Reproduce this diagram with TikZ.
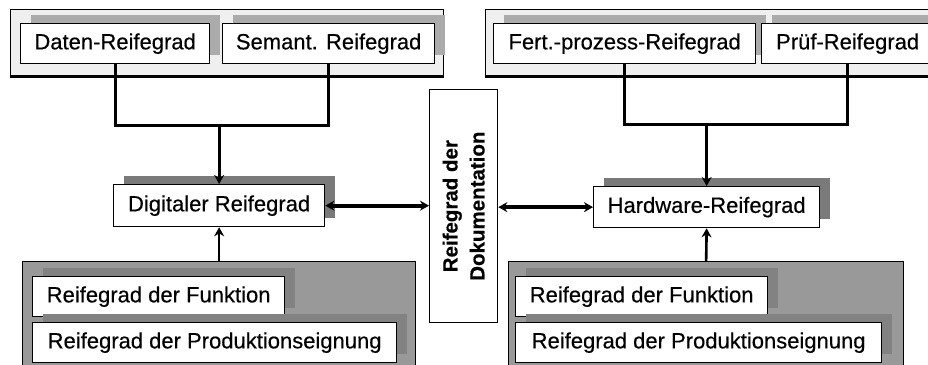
\documentclass[tikz,border=0pt]{standalone}
\usepackage{fontspec}
\setmainfont[FakeBold=0.4]{Liberation Sans}
\usetikzlibrary{shadows,arrows.meta}
\definecolor{grplight}{HTML}{EFEFEF}
\definecolor{shlight}{HTML}{ABABAB}
\definecolor{shdark}{HTML}{7A7A7A}
\definecolor{grpdark}{HTML}{999999}
\definecolor{shmid}{HTML}{828282}
\begin{document}
\begin{tikzpicture}[x=1pt,y=-1pt,
  rbox/.style={draw=black, line width=1.3pt, fill=white, inner sep=0pt,
    font=\fontsize{22}{25}\selectfont, anchor=north west},
  shad/.style={general shadow={shadow xshift=10pt, shadow yshift=9pt, fill=#1}},
  grp/.style={draw=black, line width=1pt, fill=#1, inner sep=0pt, anchor=north west},
  conn/.style={line width=3pt},
  tip/.style={-{Stealth[length=9pt,width=10pt]}},
  dtip/.style={{Stealth[length=9pt,width=10pt]}-{Stealth[length=9pt,width=10pt]}}
]
\useasboundingbox (0,0) rectangle (928,364);
\clip (0,0) rectangle (928,364);

% top-left group
\node[grp=grplight, minimum width=433pt, minimum height=66pt] (gtl) at (10,9) {};
\draw[line width=3pt] (gtl.south west) -- (gtl.south east);
\node[rbox, shad=shlight, minimum width=189pt, minimum height=40pt] (daten) at (20,23) {Daten-Reifegrad};
\node[rbox, shad=shlight, minimum width=212pt, minimum height=40pt] (semant) at (222,23) {Semant. Reifegrad};

% top-right group
\node[grp=grplight, minimum width=460pt, minimum height=66pt] (gtr) at (485,9) {};
\draw[line width=3pt] (gtr.south west) -- (gtr.south east);
\node[rbox, shad=shlight, minimum width=262pt, minimum height=40pt] (fert) at (493,23) {Fert.-prozess-Reifegrad};
\node[rbox, shad=shlight, minimum width=172pt, minimum height=40pt] (pruef) at (761,23) {Prüf-Reifegrad};

% middle boxes
\node[rbox, shad=shdark, minimum width=211pt, minimum height=42pt] (dig) at (113,184) {Digitaler Reifegrad};
\node[rbox, shad=shdark, minimum width=226pt, minimum height=41pt] (hw) at (593,186) {Hardware-Reifegrad};
\node[rbox, minimum width=68pt, minimum height=233pt] (doc) at (429,89) {};
\node[rotate=90, align=center, inner sep=0pt, font=\fontsize{20.5}{27}\selectfont\bfseries] (doctext) at (doc.center) {Reifegrad der\\Dokumentation};

% bottom-left group
\node[grp=grpdark, line width=1.3pt, minimum width=393pt, minimum height=120pt] (gbl) at (22,261) {};
\node[rbox, shad=shmid, minimum width=252pt, minimum height=40pt] (funl) at (32,276) {Reifegrad der Funktion};
\node[rbox, shad=shmid, minimum width=364pt, minimum height=40pt] (prodl) at (32,322) {Reifegrad der Produktionseignung};

% bottom-right group
\node[grp=grpdark, line width=1.3pt, minimum width=395pt, minimum height=120pt] (gbr) at (508,261) {};
\node[rbox, shad=shmid, minimum width=252pt, minimum height=40pt] (funr) at (515,276) {Reifegrad der Funktion};
\node[rbox, shad=shmid, minimum width=366pt, minimum height=40pt] (prodr) at (515,322) {Reifegrad der Produktionseignung};

% connectors top-left
\coordinate (jl) at (dig.north |- 0,125);
\draw[conn] (daten.south) |- (jl) -| (semant.south);
\draw[conn, tip] (jl) -- (dig.north);
% connectors top-right
\coordinate (jr) at (hw.north |- 0,124);
\draw[conn] (fert.south) |- (jr) -| (pruef.south);
\draw[conn, tip] (jr) -- (hw.north);
% bottom to middle
\draw[line width=2.6pt, tip] (gbl.north) -- (dig.south);
\draw[line width=2.6pt, tip] (gbr.north) -- (hw.south);
% horizontal double arrows
\draw[line width=4pt, dtip] (dig.east) -- (dig.east -| doc.west);
\draw[line width=4pt, dtip] (hw.west -| doc.east) -- (hw.west);
\end{tikzpicture}
\end{document}
